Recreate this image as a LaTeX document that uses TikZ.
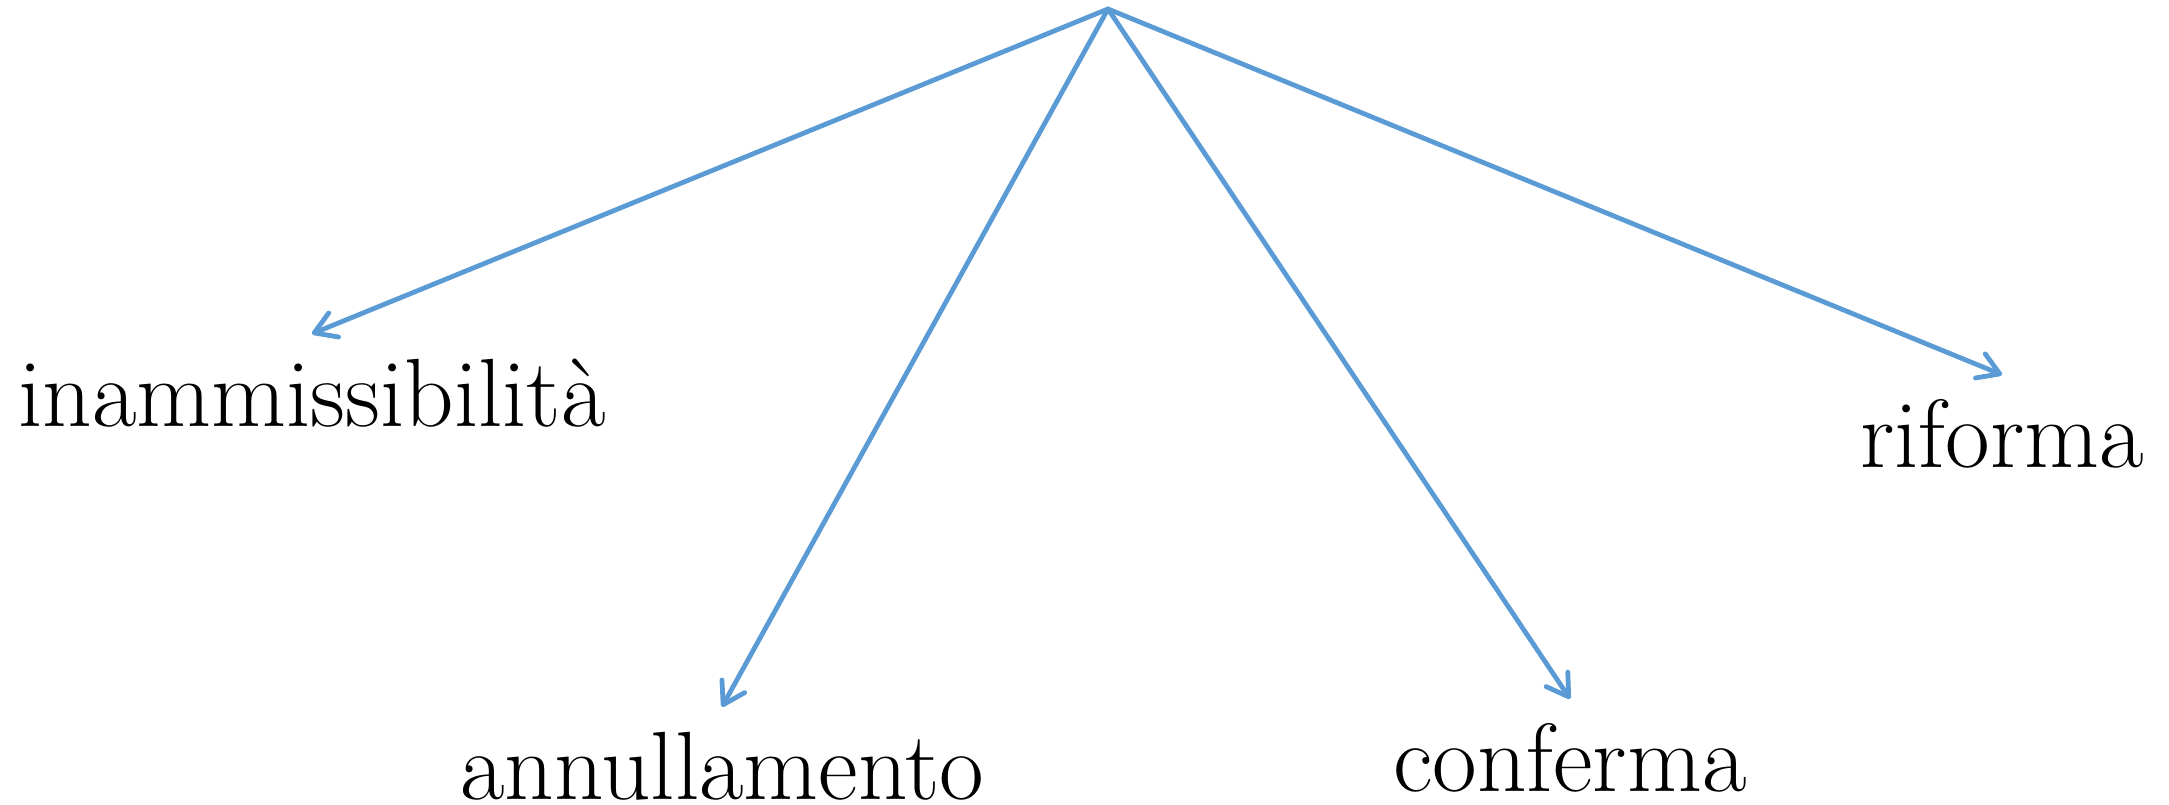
\documentclass[tikz,border=0pt]{standalone}
\usetikzlibrary{arrows.meta}
\definecolor{linkblue}{HTML}{5B9BD5}
\begin{document}
\begin{tikzpicture}[x=1pt,y=-1pt,
  lab/.style={anchor=base,inner xsep=0pt,inner ysep=0pt,text height=92pt,text depth=0pt,
    font=\fontsize{97}{110}\selectfont},
  link/.style={draw=linkblue,line width=4.8pt,line cap=round,line join=round,
    -{Straight Barb[length=21pt,width=26pt,line cap=round,line join=round]}}]
\useasboundingbox (0,0) rectangle (2169,805);
\coordinate (root) at (1108,9);
\node[lab] (inam) at (312,426) {inammissibilità};
\node[lab] (rif) at (2002,467) {riforma};
\node[lab] (ann) at (722,799) {annullamento};
\node[lab] (conf) at (1570,791) {conferma};
\draw[link] (root) -- (inam.north);
\draw[link] (root) -- (ann.north);
\draw[link] (root) -- (conf.north);
\draw[link] (root) -- (rif.north);
\end{tikzpicture}
\end{document}
